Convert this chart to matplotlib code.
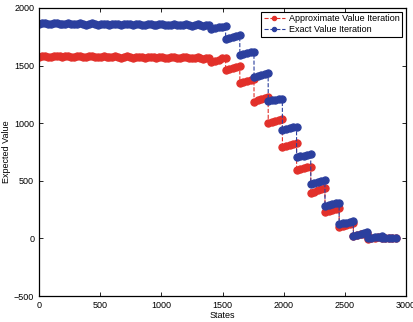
import numpy as np
import matplotlib.pyplot as plt

plt.rcParams['font.family'] = ['Liberation Sans', 'DejaVu Sans']

# flat part of the state space, sampled every 24 states
plateau_states = list(range(0, 1410, 24))
exact_plateau = [1862, 1868, 1870, 1864, 1860, 1866, 1869, 1863, 1858, 1865, 1868, 1862,
                 1857, 1864, 1867, 1861, 1856, 1863, 1866, 1860, 1855, 1862, 1865, 1859,
                 1854, 1861, 1864, 1858, 1853, 1860, 1863, 1857, 1852, 1859, 1862, 1856,
                 1851, 1858, 1861, 1855, 1850, 1857, 1860, 1854, 1849, 1856, 1859, 1853,
                 1848, 1855, 1858, 1852, 1847, 1854, 1857, 1851, 1846, 1853, 1856]
approx_plateau = [1574, 1580, 1584, 1578, 1576, 1582, 1585, 1579, 1575, 1581, 1584, 1578,
                  1574, 1580, 1583, 1577, 1573, 1579, 1582, 1576, 1572, 1578, 1581, 1575,
                  1571, 1577, 1580, 1574, 1570, 1576, 1579, 1573, 1569, 1575, 1578, 1572,
                  1568, 1574, 1577, 1571, 1567, 1573, 1576, 1570, 1566, 1572, 1575, 1569,
                  1565, 1571, 1574, 1568, 1564, 1570, 1573, 1567, 1560, 1566, 1568]

# staircase part: blocks of 116 states, 5 samples per block
block_starts = [1410, 1526, 1642, 1758, 1874, 1990, 2106, 2222, 2338, 2454, 2570, 2686, 2802]
block_offsets = [0, 29, 58, 87, 115]
exact_blocks = [
    [1815, 1824, 1832, 1838, 1843],
    [1728, 1738, 1748, 1757, 1765],
    [1592, 1600, 1607, 1614, 1621],
    [1398, 1407, 1416, 1425, 1433],
    [1193, 1198, 1203, 1208, 1213],
    [941, 948, 955, 963, 970],
    [704, 711, 718, 726, 733],
    [472, 481, 490, 499, 507],
    [281, 288, 296, 303, 310],
    [125, 131, 138, 145, 151],
    [24, 31, 39, 47, 55],
    [0, 4, 9, 13, 18],
    [2, 1, 1, 0, 0],
]
approx_blocks = [
    [1534, 1543, 1552, 1562, 1570],
    [1463, 1471, 1479, 1487, 1495],
    [1346, 1354, 1363, 1372, 1380],
    [1188, 1198, 1209, 1219, 1229],
    [1000, 1009, 1018, 1027, 1036],
    [796, 805, 814, 822, 831],
    [594, 601, 608, 616, 623],
    [397, 407, 416, 426, 435],
    [232, 241, 250, 258, 267],
    [101, 110, 118, 127, 136],
    [18, 26, 34, 42, 50],
    [-2, 3, 7, 11, 15],
    [0, 0, 0, 0, 0],
]

states = plateau_states + [s + o for s in block_starts for o in block_offsets]
exact = exact_plateau + [v for b in exact_blocks for v in b]
approx = approx_plateau + [v for b in approx_blocks for v in b]

red = '#e2302a'
blue = '#2b3f9e'

fig = plt.figure(figsize=(4.14, 3.22), dpi=100)
ax = fig.add_axes([0.0942, 0.0807, 0.8865, 0.8945])

ax.plot(states, approx, '--o', color=red, mfc=red, mec=red, ms=5.2, mew=0.8, lw=0.8,
        label='Approximate Value Iteration')
ax.plot(states, exact, '--o', color=blue, mfc=blue, mec=blue, ms=5.2, mew=0.8, lw=0.8,
        label='Exact Value Iteration')

ax.set_xlim(0, 3000)
ax.set_ylim(-500, 2000)
ax.set_xticks(range(0, 3001, 500))
ax.set_yticks(range(-500, 2001, 500))
ax.tick_params(direction='in', top=True, right=True, labelsize=6.5, length=3, width=0.6)
for sp in ax.spines.values():
    sp.set_linewidth(0.9)

ax.set_xlabel('States', fontsize=6.5, labelpad=1)
ax.set_ylabel('Expected Value', fontsize=6.5, labelpad=2)

leg = ax.legend(loc='upper right', fontsize=6.5, fancybox=False, framealpha=1,
                edgecolor='black', borderpad=0.3, handlelength=2.4, labelspacing=0.2,
                borderaxespad=0.4, handletextpad=0.4, markerscale=0.6)
leg.get_frame().set_linewidth(0.8)

fig.savefig('out.png', dpi=100)
